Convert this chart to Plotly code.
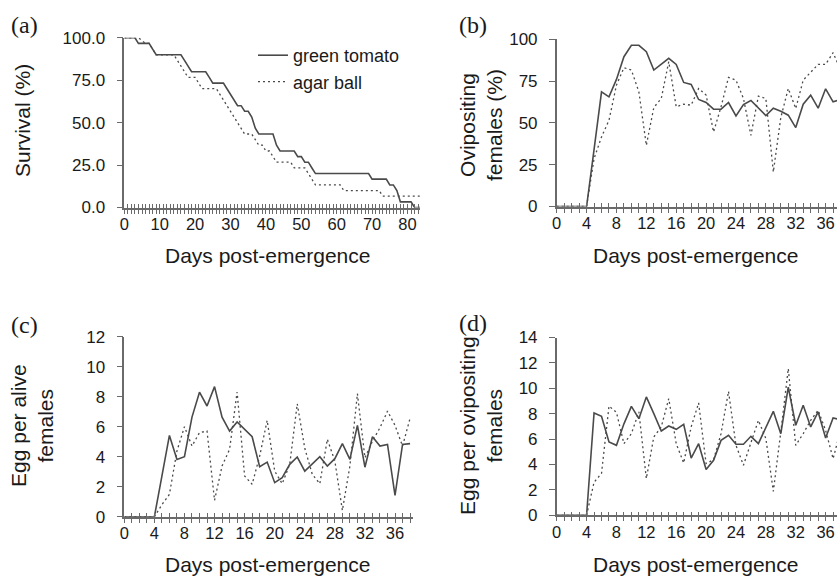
import plotly.graph_objects as go

W, H = 837, 577

# ---------------- data ----------------
days_a = list(range(0, 85))
surv_tomato = [100, 100, 100, 100, 96.7, 96.7, 96.7, 96.7, 93.3, 90,
               90, 90, 90, 90, 90, 90, 90, 86.7, 83.3, 80,
               80, 80, 80, 80, 76.7, 73.3, 73.3, 73.3, 73.3, 70,
               66.7, 63.3, 60, 60, 56.7, 56.7, 53.3, 46.7, 43.3, 43.3,
               43.3, 43.3, 43.3, 36.7, 33.3, 33.3, 33.3, 33.3, 33.3, 30,
               30, 26.7, 26.7, 23.3, 20, 20, 20, 20, 20, 20,
               20, 20, 20, 20, 20, 20, 20, 20, 20, 20,
               16.7, 16.7, 16.7, 16.7, 16.7, 13.3, 13.3, 10, 3.3, 3.3,
               3.3, 3.3, 0, 0, 0]
surv_agar = [100, 100, 100, 100, 100, 98.3, 96.7, 96.7, 93.3, 90,
             90, 90, 90, 90, 90, 86.7, 83.3, 80, 76.7, 76.7,
             76.7, 73.3, 70, 70, 70, 70, 70, 66.7, 63.3, 60,
             56.7, 53.3, 50, 46.7, 43.3, 43.3, 43.3, 40, 36.7, 36.7,
             33.3, 33.3, 30, 26.7, 26.7, 26.7, 26.7, 26.7, 23.3, 23.3,
             23.3, 23.3, 20, 16.7, 13.3, 13.3, 13.3, 13.3, 13.3, 13.3,
             13.3, 13.3, 10, 10, 10, 10, 10, 10, 10, 10,
             10, 10, 10, 6.7, 6.7, 6.7, 6.7, 6.7, 6.7, 6.7,
             6.7, 6.7, 6.7, 6.7, 6.7]

days = list(range(0, 39))
ovi_tomato = [0, 0, 0, 0, 0, 34, 68.6, 65.6, 76, 89.6, 96.4, 96.4, 92.6, 81.6, 85.2,
              88.6, 85, 74.2, 73, 64, 62.2, 58.2, 58.2, 62.2, 54.2,
              61, 63.4, 59, 54.4, 58.8, 57, 54.6, 47.2, 61.2, 66.6,
              58.8, 70.4, 62.6, 64]
ovi_agar = [0, 0, 0, 0, 0, 28.6, 41.6, 51.6, 72.6, 83, 81.6, 68.6, 36.6, 59.2, 64.6,
            86.6, 59.6, 61.2, 60.6, 70.6, 66.6, 44.6, 59.6, 77.2, 75.6,
            64.6, 42.6, 66, 64.6, 20.6, 53.2, 70.6, 58.6, 75.6, 80,
            85, 85, 92, 81.6]
egg_alive_tomato = [0, 0, 0, 0, 0, 2.7, 5.42, 3.82, 4.0, 6.64, 8.3, 7.38, 8.67, 6.64, 5.71,
                    6.31, 5.82, 5.33, 3.33, 3.64, 2.27, 2.6, 3.49, 3.98, 3.04,
                    3.49, 4.0, 3.38, 3.87, 4.87, 3.82, 6.09, 3.3, 5.33, 4.71,
                    4.82, 1.42, 4.82, 4.87]
egg_alive_agar = [0, 0, 0, 0, 0, 0.8, 1.49, 4.38, 6.0, 4.71, 5.6, 5.71, 1.09, 3.38, 4.49,
                  8.31, 2.71, 2.16, 4.04, 6.42, 3.04, 2.2, 3.49, 7.53, 4.56,
                  2.82, 2.2, 5.16, 3.71, 0.42, 3.38, 8.2, 3.93, 5.04, 5.93,
                  7.04, 6.09, 4.71, 6.56]
egg_ovi_tomato = [0, 0, 0, 0, 0, 8.06, 7.8, 5.77, 5.51, 7.2, 8.58, 7.61, 9.32, 8.0, 6.64,
                  7.03, 6.77, 7.17, 4.51, 5.64, 3.6, 4.33, 5.9, 6.3, 5.59,
                  5.59, 6.22, 5.64, 6.9, 8.19, 6.43, 10.1, 7.09, 8.66, 6.96,
                  8.14, 6.09, 7.66, 7.53]
egg_ovi_agar = [0, 0, 0, 0, 0, 2.6, 3.3, 8.6, 8.1, 5.64, 6.43, 8.14, 2.89, 6.17, 6.96,
                9.19, 5.64, 4.12, 6.96, 8.85, 4.07, 4.38, 6.43, 9.76, 5.51,
                3.94, 5.64, 7.48, 6.04, 1.89, 6.56, 11.55, 5.51, 6.43, 7.48,
                8.27, 6.69, 4.46, 6.69]

series_names = ["green tomato", "agar ball"]
panel_labels = ["(a)", "(b)", "(c)", "(d)"]
y_titles = ["Survival (%)", "Ovipositing<br>females (%)",
            "Egg per alive<br>females", "Egg per ovipositing<br>females"]
x_title = "Days post-emergence"

# ---------------- layout helpers ----------------
def px(x):
    return x / W

def py(y):
    return 1 - y / H

SANS = "Liberation Sans, Arial, sans-serif"
SERIF = "Liberation Serif, Times New Roman, serif"
LINE_COL = "#4a4a4a"
AXIS_COL = "#6a6a6a"
TXT = "#1a1a1a"

# panel geometry in pixels
panels = [
    dict(x0=124.3, x1=420, yb=207.5, yt=37.8, xmax=(420 - 124.3) / 3.54, xstep=10,
         yr=[0, 100], ydt=25, yfmt=".1f"),
    dict(x0=556.7, x1=837, yb=206.5, yt=39.3, xmax=(837 - 556.7) / 7.47, xstep=4,
         yr=[0, 100], ydt=25, yfmt="d"),
    dict(x0=124.3, x1=413, yb=516.7, yt=336.7, xmax=(413 - 124.3) / 7.52, xstep=4,
         yr=[0, 12], ydt=2, yfmt="d"),
    dict(x0=556.7, x1=837, yb=515.3, yt=337.5, xmax=(837 - 556.7) / 7.47, xstep=4,
         yr=[0, 14], ydt=2, yfmt="d"),
]

fig = go.Figure()

data_sets = [
    (days_a, surv_tomato, surv_agar),
    (days, ovi_tomato, ovi_agar),
    (days, egg_alive_tomato, egg_alive_agar),
    (days, egg_ovi_tomato, egg_ovi_agar),
]

layout = {}
for i, (p, (xs, y1, y2)) in enumerate(zip(panels, data_sets)):
    n = i + 1
    xa = "x" if n == 1 else f"x{n}"
    ya = "y" if n == 1 else f"y{n}"
    fig.add_trace(go.Scatter(x=xs, y=y1, mode="lines", name=series_names[0],
                             line=dict(color=LINE_COL, width=1.6),
                             xaxis=xa, yaxis=ya, showlegend=(n == 1),
                             legendrank=1))
    fig.add_trace(go.Scatter(x=xs, y=y2, mode="lines", name=series_names[1],
                             line=dict(color=LINE_COL, width=1.3, dash="2px,3px"),
                             xaxis=xa, yaxis=ya, showlegend=(n == 1),
                             legendrank=2))
    # overlay x-axis for the outer half of the crossing ticks
    ov = f"x{n + 4}"
    fig.add_trace(go.Scatter(x=[], y=[], xaxis=ov, yaxis=ya, showlegend=False,
                             hoverinfo="skip"))

    nmax = int(p["xmax"]) + 1
    tv = list(range(0, nmax + 1))
    tt = [str(v) if v % p["xstep"] == 0 else "" for v in tv]
    xdom = [px(p["x0"]), px(p["x1"])]
    ydom = [py(p["yb"]), py(p["yt"])]
    key = "xaxis" if n == 1 else f"xaxis{n}"
    ykey = "yaxis" if n == 1 else f"yaxis{n}"
    layout[key] = dict(domain=xdom, range=[0, p["xmax"]], anchor=ya,
                       tickmode="array", tickvals=tv, ticktext=tt,
                       ticks="inside", ticklen=4, tickwidth=1, tickcolor=AXIS_COL,
                       ticklabelstandoff=1,
                       showline=True, linecolor=AXIS_COL, linewidth=1.5,
                       showgrid=False, zeroline=False,
                       tickfont=dict(family=SANS, size=16.5, color=TXT))
    layout[f"xaxis{n + 4}"] = dict(overlaying=xa, range=[0, p["xmax"]], anchor=ya,
                                   tickmode="array", tickvals=tv,
                                   ticks="outside", ticklen=5, tickwidth=1,
                                   tickcolor=AXIS_COL, showticklabels=False,
                                   showline=False, showgrid=False, zeroline=False)
    layout[ykey] = dict(domain=ydom, range=p["yr"], anchor=xa,
                        dtick=p["ydt"], tick0=0, tickformat=p["yfmt"],
                        ticks="outside", ticklen=6, tickwidth=1, tickcolor=AXIS_COL,
                        ticklabelstandoff=8,
                        showline=True, linecolor=AXIS_COL, linewidth=1.5,
                        showgrid=False, zeroline=False,
                        tickfont=dict(family=SANS, size=17, color=TXT))

annotations = []
# panel labels
for lab, (x, y) in zip(panel_labels, [(9, 25), (457, 25), (9, 325), (457, 323)]):
    annotations.append(dict(text=lab, x=px(x), y=py(y), xref="paper", yref="paper",
                            xanchor="left", yanchor="middle", showarrow=False,
                            font=dict(family=SERIF, size=24, color=TXT)))
# y titles
for t, (x, y) in zip(y_titles, [(22, 121), (481, 125), (32, 425), (481, 426)]):
    annotations.append(dict(text=t, x=px(x), y=py(y), xref="paper", yref="paper",
                            xanchor="center", yanchor="middle", showarrow=False,
                            textangle=-90,
                            font=dict(family=SANS, size=21, color=TXT)))
# x titles
for (x, y) in [(267.5, 255), (695, 255), (267.5, 564), (695, 564)]:
    annotations.append(dict(text=x_title, x=px(x), y=py(y), xref="paper", yref="paper",
                            xanchor="center", yanchor="middle", showarrow=False,
                            font=dict(family=SANS, size=21, color=TXT)))

fig.update_layout(
    width=W, height=H,
    margin=dict(l=0, r=0, t=0, b=0, autoexpand=False),
    paper_bgcolor="white", plot_bgcolor="white",
    annotations=annotations,
    legend=dict(x=px(253), y=py(37), xanchor="left", yanchor="top",
                bgcolor="rgba(0,0,0,0)", borderwidth=0,
                font=dict(family=SANS, size=18, color=TXT),
                itemwidth=30, tracegroupgap=0),
    **layout,
)

fig.write_html("out.html")
